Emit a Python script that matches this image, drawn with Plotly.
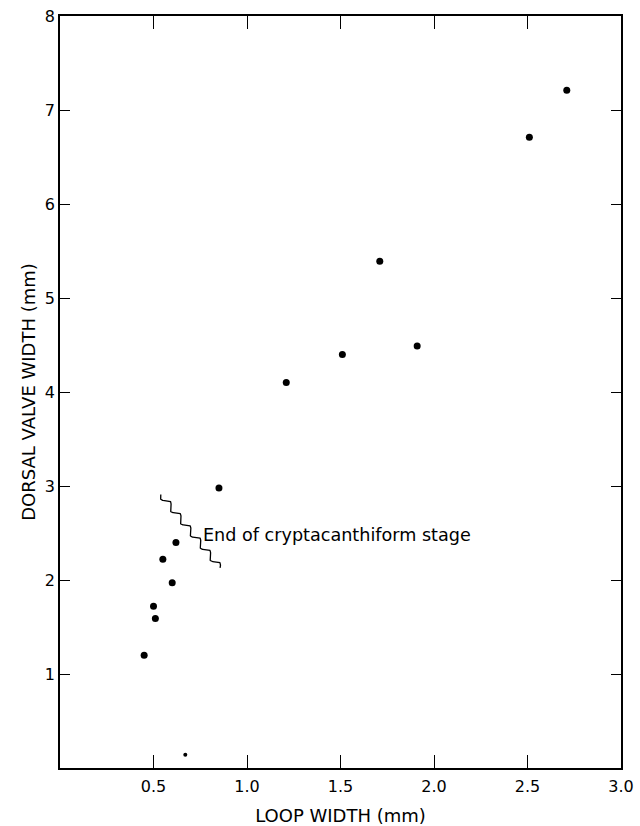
import numpy as np
import plotly.graph_objects as go

# Data
loop_width = [0.45, 0.50, 0.51, 0.55, 0.60, 0.62, 0.85, 1.21, 1.51, 1.71, 1.91, 2.51, 2.71]
dorsal_width = [1.20, 1.72, 1.59, 2.22, 1.97, 2.40, 2.98, 4.10, 4.40, 5.39, 4.49, 6.71, 7.21]
small_x = [0.67]
small_y = [0.14]

x_ticks = [0.5, 1.0, 1.5, 2.0, 2.5, 3.0]
x_ticklabels = ["0.5", "1.0", "1.5", "2.0", "2.5", "3.0"]
y_ticks = [1, 2, 3, 4, 5, 6, 7, 8]
y_ticklabels = ["1", "2", "3", "4", "5", "6", "7", "8"]

annot_text = "End of cryptacanthiform stage"
wave_start = (0.539, 2.91)
wave_end = (0.856, 2.13)

W, H = 640, 826
ml, mr, mt, mb = 60, 19, 16, 58
xr, yr = (0, 3.0), (0, 8.0)
pw, ph = W - ml - mr, H - mt - mb
sx = pw / (xr[1] - xr[0])
sy = ph / (yr[1] - yr[0])

# Wavy marker line (decoration) computed in pixel space
p0 = np.array([wave_start[0] * sx, -wave_start[1] * sy])
p1 = np.array([wave_end[0] * sx, -wave_end[1] * sy])
d = p1 - p0
L = np.hypot(*d)
u = d / L
nrm = np.array([-u[1], u[0]])
t = np.linspace(0, L, 300)
periods = 6
amp = 3.0
off = amp * np.sin(2 * np.pi * periods * t / L)
pts = p0[None, :] + t[:, None] * u[None, :] + off[:, None] * nrm[None, :]
wx = pts[:, 0] / sx
wy = -pts[:, 1] / sy

FONT = "DejaVu Sans, Liberation Sans, Arial, sans-serif"

fig = go.Figure()
fig.add_trace(go.Scatter(x=wx, y=wy, mode="lines", line=dict(color="black", width=1.3),
                         hoverinfo="skip", showlegend=False))
fig.add_trace(go.Scatter(x=loop_width, y=dorsal_width, mode="markers",
                         marker=dict(color="black", size=7), showlegend=False))
fig.add_trace(go.Scatter(x=small_x, y=small_y, mode="markers",
                         marker=dict(color="black", size=4), showlegend=False))

fig.add_annotation(x=0.752, y=2.48, text=annot_text, showarrow=False, xanchor="left",
                   yanchor="middle", font=dict(family=FONT, size=17.6, color="black"))

fig.update_xaxes(range=list(xr), tickvals=x_ticks, ticktext=x_ticklabels,
                 ticks="inside", ticklen=13, tickwidth=1.2, tickcolor="black",
                 showline=True, linecolor="black", linewidth=1.5, mirror="ticks",
                 showgrid=False, zeroline=False, automargin=False, ticklabelstandoff=3,
                 tickfont=dict(family=FONT, size=16, color="black"),
                 title=dict(text="LOOP WIDTH (mm)", font=dict(family=FONT, size=18, color="black"),
                            standoff=17))
fig.update_yaxes(range=list(yr), tickvals=y_ticks, ticktext=y_ticklabels,
                 ticks="inside", ticklen=10, tickwidth=1.2, tickcolor="black",
                 showline=True, linecolor="black", linewidth=1.5, mirror="ticks",
                 showgrid=False, zeroline=False, automargin=False,
                 tickfont=dict(family=FONT, size=16, color="black"),
                 title=dict(text="DORSAL VALVE WIDTH (mm)", font=dict(family=FONT, size=18, color="black"),
                            standoff=5))

fig.update_layout(width=W, height=H, margin=dict(l=ml, r=mr, t=mt, b=mb),
                  paper_bgcolor="white", plot_bgcolor="white", showlegend=False)

fig.write_html("out.html")
